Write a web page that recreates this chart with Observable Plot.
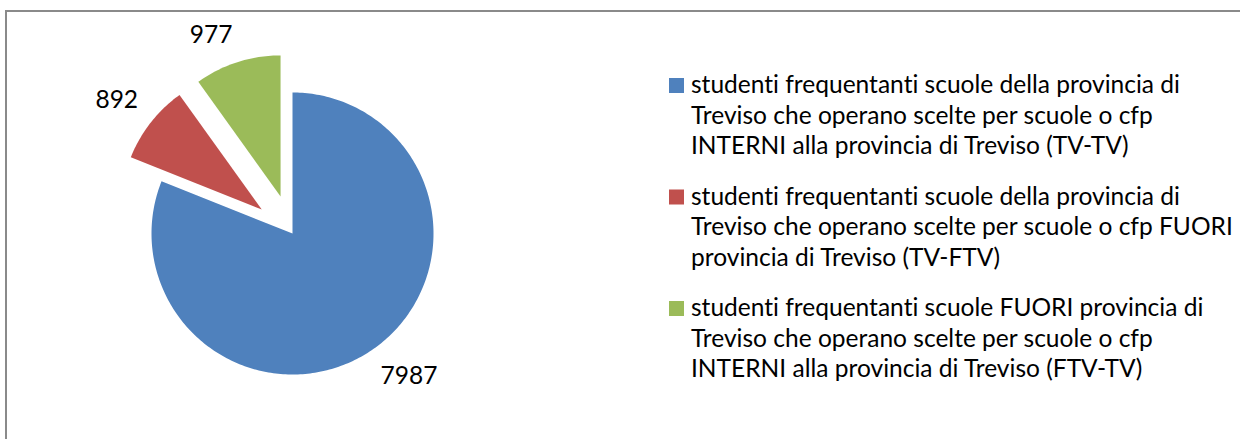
<!DOCTYPE html>
<html><head><meta charset="utf-8">
<script src="https://cdn.jsdelivr.net/npm/d3@7"></script>
<script src="https://cdn.jsdelivr.net/npm/@observablehq/plot@0.6"></script>
<style>
html,body{margin:0;padding:0;background:#fff;}
#page{position:relative;width:1240px;height:439px;overflow:hidden;background:#fff;}
#frame{position:absolute;left:5px;top:10px;width:1400px;height:700px;border:2px solid #8a8a8a;box-sizing:border-box;}
#pie{position:absolute;left:0;top:0;}
#legend{position:absolute;left:640px;top:0;}
svg text{font-variant-ligatures:none;font-feature-settings:"liga" 0;}
</style></head><body>
<div id="page"><div id="frame"></div><div id="pie"></div><svg id="legend" width="600" height="439"></svg></div>
<script>
// ---- data ----
const categories = [
  "studenti frequentanti scuole della provincia di Treviso che operano scelte per scuole o cfp INTERNI alla provincia di Treviso (TV-TV)",
  "studenti frequentanti scuole della provincia di Treviso che operano scelte per scuole o cfp FUORI provincia di Treviso (TV-FTV)",
  "studenti frequentanti scuole FUORI provincia di Treviso che operano scelte per scuole o cfp INTERNI alla provincia di Treviso (FTV-TV)"
];
const values = [7987, 892, 977];
const colors = ["#4F81BD", "#C0504D", "#9BBB59"];
const legendLines = [
  ["studenti frequentanti scuole della provincia di", "Treviso che operano scelte per scuole o cfp", "INTERNI alla provincia di Treviso (TV-TV)"],
  ["studenti frequentanti scuole della provincia di", "Treviso che operano scelte per scuole o cfp FUORI", "provincia di Treviso (TV-FTV)"],
  ["studenti frequentanti scuole FUORI provincia di", "Treviso che operano scelte per scuole o cfp", "INTERNI alla provincia di Treviso (FTV-TV)"]
];
const explodePx = [0, 39, 39];

// ---- layout ----
const W = 640, H = 439, CX = 292, CY = 233, R = 141, GAP = 16;
const FONT = "Lato, 'Open Sans', sans-serif";
const ctx = document.createElement("canvas").getContext("2d");
ctx.font = "100px Lato";
const fontSize = 100 * 490 / ctx.measureText(legendLines[0][0]).width;
ctx.font = fontSize + "px Lato";

// ---- slices ----
const arcs = d3.pie().sort(null).value(d => d)(values);
const slicePts = [];
const labels = [];
arcs.forEach((a, i) => {
  const cat = categories[i];
  const mid = (a.startAngle + a.endAngle) / 2;
  const e = explodePx[i] / R;
  const ox = e * Math.sin(mid), oy = e * Math.cos(mid);
  slicePts.push({cat, x: ox, y: oy});
  const n = Math.max(2, Math.ceil((a.endAngle - a.startAngle) * 180 / Math.PI));
  for (let k = 0; k <= n; k++) {
    const t = a.startAngle + (a.endAngle - a.startAngle) * k / n;
    slicePts.push({cat, x: ox + Math.sin(t), y: oy + Math.cos(t)});
  }
  slicePts.push({cat, x: ox, y: oy});
  const txt = String(values[i]);
  const w = ctx.measureText(txt).width, h = fontSize;
  const s = Math.sin(mid), c = Math.cos(mid);
  const px = ox + (R + GAP) / R * s, py = oy + (R + GAP) / R * c;
  labels.push({text: txt, x: px + Math.sign(s) * w / 2 / R, y: py + Math.sign(c) * h / 2 / R});
});

const chart = Plot.plot({
  width: W, height: H, margin: 0,
  style: {background: "transparent", fontFamily: FONT},
  x: {domain: [-CX / R, (W - CX) / R], range: [0, W], axis: null},
  y: {domain: [-(H - CY) / R, CY / R], range: [H, 0], axis: null},
  color: {domain: categories, range: colors},
  marks: [
    Plot.line(slicePts, {x: "x", y: "y", z: "cat", fill: "cat", stroke: "none"}),
    Plot.text(labels, {x: "x", y: "y", text: "text", fontSize, fontFamily: FONT, fill: "#000", textAnchor: "middle", lineAnchor: "middle"})
  ]
});
document.getElementById("pie").appendChild(chart);

// ---- legend ----
const lg = d3.select("#legend");
const OX = 640, base0 = 93, groupStep = 111.5, lineStep = 30.7;
legendLines.forEach((lines, i) => {
  const b = base0 + i * groupStep;
  lg.append("rect").attr("x", 669 - OX).attr("y", b - 15).attr("width", 15).attr("height", 15).attr("fill", colors[i]);
  lines.forEach((ln, j) => {
    lg.append("text").attr("x", 691 - OX).attr("y", b + j * lineStep)
      .attr("font-family", FONT).attr("font-size", fontSize).attr("fill", "#000").text(ln);
  });
});
</script>
</body></html>
